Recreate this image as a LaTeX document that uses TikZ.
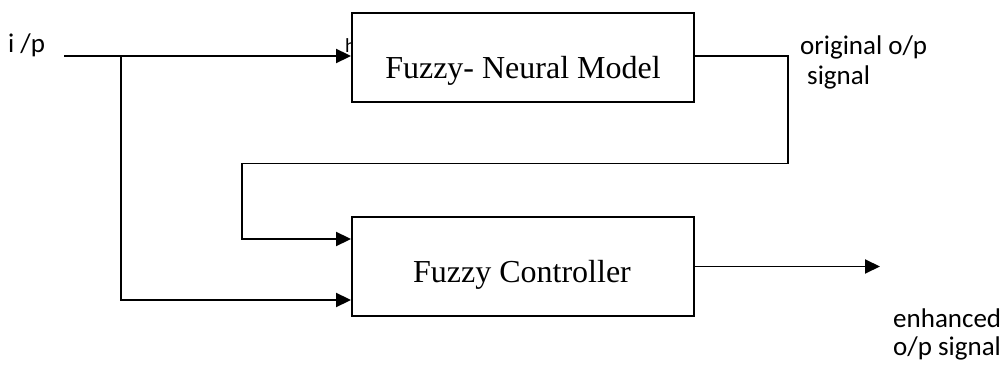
\documentclass[tikz,border=0pt]{standalone}
\usepackage{fontspec}
\setmainfont{Liberation Serif}
\newfontfamily\calfont{Carlito}
\usetikzlibrary{arrows.meta}
\begin{document}
\begin{tikzpicture}[x=1pt,y=-1pt,
  blk/.style={draw=black,line width=1.9pt,fill=white,inner sep=0pt,
    minimum width=342pt,font=\fontsize{32}{36}\selectfont},
  wire/.style={draw=black,line width=1.9pt},
  arr/.style={wire,-{Triangle[length=15pt,width=14pt]}},
  lab/.style={anchor=base west,inner sep=0pt,font=\calfont\fontsize{27}{30}\selectfont}]
\useasboundingbox (0,0) rectangle (1006,371);
% partly hidden letter behind the top block
\node[anchor=base west,inner sep=0pt,font=\calfont\fontsize{20}{24}\selectfont] (hh) at (345,53) {h};
\node[blk,minimum height=89pt] (fnm) at (523,57.5) {};
\node[anchor=base,inner sep=0pt,font=\fontsize{32}{36}\selectfont] (fnmt) at (523,79) {Fuzzy- Neural Model};
\node[blk,minimum height=99pt] (fc) at (523,266.5) {};
\node[anchor=base,inner sep=0pt,font=\fontsize{32}{36}\selectfont] (fct) at (522,283) {Fuzzy Controller};
\coordinate (in) at (64,56);
\coordinate (br) at (121,56);
\coordinate (fbr) at (788,56);
\coordinate (fbl) at (242,163.5);
\coordinate (out) at (880,266.5);
\draw[arr] (in) -- (in -| fnm.west);
\draw[arr] (br) |- ([yshift=-33.5pt]fc.west);
\draw[wire] (fnm.east |- fbr) -- (fbr) |- (fbl);
\draw[arr] (fbl) |- ([yshift=27.5pt]fc.west);
\draw[arr] (fc.east) -- (out);
\node[lab] (ip) at (8,53) {i /p};
\node[lab] (orig) at (800,55) {original o/p};
\node[lab] (sig) at (807,85) {signal};
\node[lab] (enh) at (893,327) {enhanced};
\node[lab] (ops) at (893,355) {o/p signal};
\end{tikzpicture}
\end{document}
